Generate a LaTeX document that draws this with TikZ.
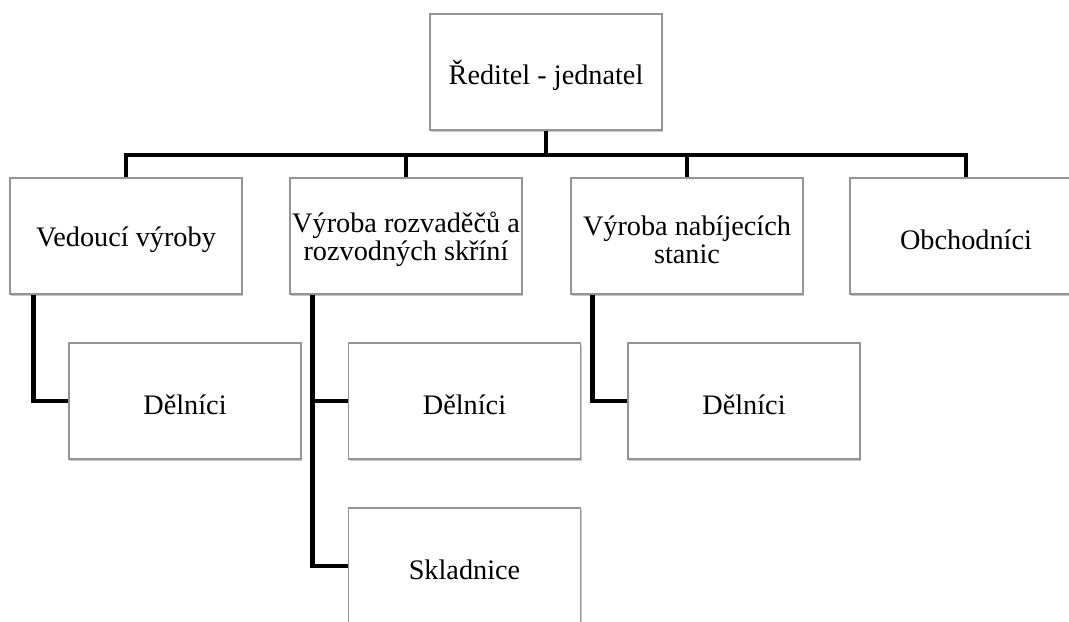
\documentclass[tikz,border=0pt]{standalone}
\usepackage{fontspec}
\setmainfont{Liberation Serif}
\usetikzlibrary{shadows,backgrounds}
\tikzset{
  orgbox/.style={draw=black!42, line width=0.8pt, fill=white, minimum width=174pt, minimum height=87pt,
    inner sep=0pt,
    drop shadow={shadow xshift=1pt, shadow yshift=-1.6pt, fill=black, opacity=0.22}},
  orgtext/.style={inner sep=0pt, align=center, font=\fontsize{21.2}{20.8}\selectfont, yshift=-2.6pt},
  conn/.style={line width=3.6pt, black, line join=miter}
}
\begin{document}
\begin{tikzpicture}[x=0.75pt,y=-0.75pt]
\useasboundingbox (0,0) rectangle (1069,621);
\clip (0,0) rectangle (1069,621);
\node[orgbox] (top) at (546,72) {};
\node[orgbox] (A) at (126,236) {};
\node[orgbox] (B) at (406,236) {};
\node[orgbox] (C) at (687,236) {};
\node[orgbox] (D) at (966,236) {};
\node[orgbox] (d1) at (185,401) {};
\node[orgbox] (d2) at (464.5,401) {};
\node[orgbox] (d3) at (744,401) {};
\node[orgbox] (sk) at (464.5,566) {};
\node[orgtext] (topt) at (top) {Ředitel - jednatel};
\node[orgtext] (At) at (A) {Vedoucí výroby};
\node[orgtext] (Bt) at (B) {Výroba rozvaděčů a\\rozvodných skříní};
\node[orgtext] (Ct) at (C) {Výroba nabíjecích\\stanic};
\node[orgtext] (Dt) at (D) {Obchodníci};
\node[orgtext] (d1t) at (d1) {Dělníci};
\node[orgtext] (d2t) at (d2) {Dělníci};
\node[orgtext] (d3t) at (d3) {Dělníci};
\node[orgtext] (skt) at (sk) {Skladnice};
\coordinate (bus) at (546,155);
\coordinate (a2) at ([xshift=18pt]A.south west);
\coordinate (b2) at ([xshift=17.25pt]B.south west);
\coordinate (c2) at ([xshift=16.5pt]C.south west);
\begin{scope}[on background layer]
\draw[conn] (top.south) -- (bus);
\draw[conn] (A.north) -- (A.north |- bus) -- (D.north |- bus) -- (D.north);
\draw[conn] (B.north) -- (B.north |- bus);
\draw[conn] (C.north) -- (C.north |- bus);
\draw[conn] (a2) |- (d1.west);
\draw[conn] (b2) |- (d2.west);
\draw[conn] (b2) |- (sk.west);
\draw[conn] (c2) |- (d3.west);
\end{scope}
\end{tikzpicture}
\end{document}
